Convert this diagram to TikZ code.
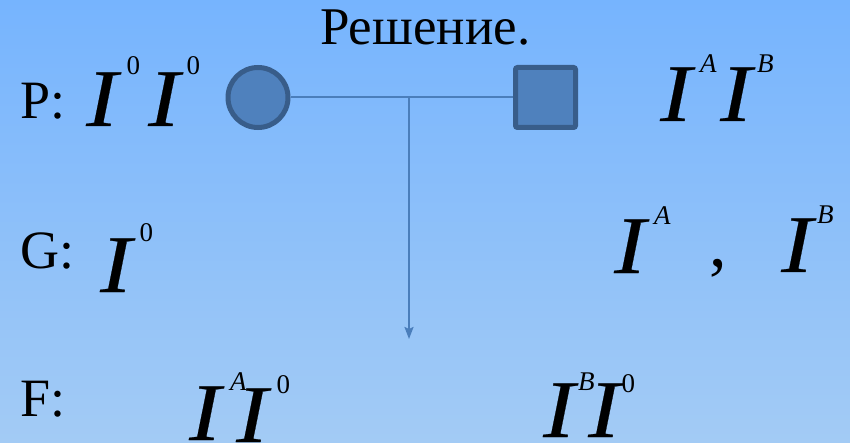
\documentclass[tikz,border=0pt]{standalone}
\usepackage{fontspec}
\setmainfont{Liberation Serif}
\newfontfamily\alleleface[FakeStretch=1.15, FakeBold=0.3]{Liberation Serif}
\usetikzlibrary{arrows.meta}

\definecolor{bgtop}{RGB}{118,180,254}
\definecolor{bgbot}{RGB}{163,203,245}
\definecolor{symfill}{RGB}{79,129,189}
\definecolor{symedge}{RGB}{56,93,138}
\definecolor{linkline}{RGB}{74,126,187}

\begin{document}
\begin{tikzpicture}[x=1pt, y=-1pt]
    
    % --------------------
    % Fundo
    % --------------------
    \shade[top color=bgtop, bottom color=bgbot] (0,0) rectangle (850,443);
    \useasboundingbox (0,0) rectangle (850,443);
    
    % Estilos
    \tikzset{
        rowtag/.style={inner sep=0pt, anchor=base west, font=\fontsize{54}{54}\selectfont},
        bigI/.style={inner sep=0pt, anchor=base west, font=\alleleface\fontsize{82}{82}\selectfont\itshape},
        supnum/.style={inner sep=0pt, anchor=base west, font=\fontsize{27}{27}\selectfont},
        supletter/.style={inner sep=0pt, anchor=base west, font=\fontsize{27}{27}\selectfont\itshape},
        parent/.style={draw=symedge, fill=symfill, line width=5pt, minimum size=60pt, inner sep=0pt}
    }
    
    \node[rowtag, font=\fontsize{53}{53}\selectfont] (title) at (320,45) {Решение.};
    
    % --------------------
    % Pais (P)
    % --------------------
    \node[rowtag] (Ptag) at (20,119) {P:};
    
    \node[bigI] (p1) at (86,126) {I};
    \node[supnum] (p1s) at (126.5,75) {0};
    \node[bigI] (p2) at (148,126) {I};
    \node[supnum] (p2s) at (186.5,75) {0};
    
    \node[parent, circle] (mother) at (258,97.5) {};
    \node[parent, rectangle, rounded corners=2pt] (father) at (545.5,97.5) {};
    
    \node[bigI] (q1) at (660,121) {I};
    \node[supletter] (q1s) at (700,73) {A};
    \node[bigI] (q2) at (720,121) {I};
    \node[supletter] (q2s) at (757,73) {B};
    
    \coordinate (cross) at (409,97.5);
    \coordinate (offspring) at (409,339);
    
    \draw[linkline, line width=2pt] (mother) -- (father);
    \draw[linkline, line width=2pt, -{Stealth[length=12pt, width=9pt, inset=2pt]}] (cross) -- (offspring);
    
    % --------------------
    % Gametas (G)
    % --------------------
    \node[rowtag] (Gtag) at (20.5,269) {G:};
    
    \node[bigI] (g1) at (100,292) {I};
    \node[supnum] (g1s) at (139.5,242) {0};
    
    \node[bigI] (g2) at (614,273) {I};
    \node[supletter] (g2s) at (654,225) {A};
    \node[rowtag, font=\fontsize{70}{70}\selectfont] (gsep) at (709.5,267) {,};
    \node[bigI] (g3) at (781,272) {I};
    \node[supletter] (g3s) at (817,224) {B};
    
    % --------------------
    % Descendentes (F)
    % --------------------
    \node[rowtag] (Ftag) at (20,416) {F:};
    
    \node[bigI] (f1) at (189,440) {I};
    \node[supletter] (f1s) at (230,390) {A};
    \node[bigI] (f2) at (236,442) {I};
    \node[supnum] (f2s) at (276.5,393) {0};
    
    \node[bigI] (f3) at (543,437) {I};
    \node[supletter] (f3s) at (578,390) {B};
    \node[bigI] (f4) at (588,437) {I};
    \node[supnum] (f4s) at (621.5,392) {0};
    
\end{tikzpicture}
\end{document}
